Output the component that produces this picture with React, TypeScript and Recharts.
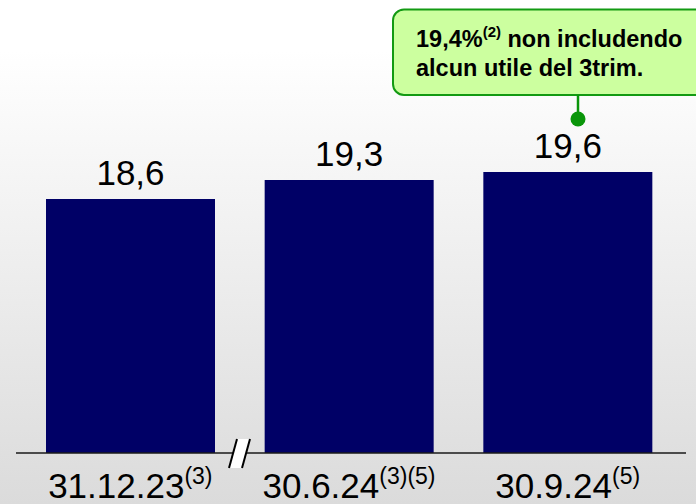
import React from 'react';
import { BarChart, Bar, XAxis, YAxis, LabelList } from 'recharts';

const categories = ['31.12.23', '30.6.24', '30.9.24'];
const footnotes = ['(3)', '(3)(5)', '(5)'];
const values = [18.6, 19.3, 19.6];
const calloutMain = '19,4%';
const calloutNote = '(2)';
const calloutRest1 = ' non includendo';
const calloutLine2 = 'alcun utile del 3trim.';

const data = categories.map((name, i) => ({ name, value: values[i] }));

const FONT = '"Liberation Sans", Arial, Helvetica, sans-serif';
const fmt = (v: number) => v.toFixed(1).replace('.', ',');

const Tick = (props: any) => {
  const { x, y, payload, index } = props;
  return (
    <text x={x} y={y + 37} textAnchor="middle" fontSize={35} fontFamily={FONT} fill="#000">
      <tspan>{payload.value}</tspan>
      <tspan fontSize={23} dy={-14}>{footnotes[index]}</tspan>
    </text>
  );
};

const ValueLabel = (props: any) => {
  const { x, y, width, value } = props;
  return (
    <text x={x + width / 2} y={y - 14} textAnchor="middle" fontSize={35} fontFamily={FONT} fill="#000">
      {fmt(value)}
    </text>
  );
};

export default function App() {
  return (
    <div
      style={{
        position: 'absolute',
        left: 0,
        top: 0,
        width: 696,
        height: 504,
        background: 'linear-gradient(to bottom, #ffffff 10%, #dbdbdb 100%)',
        overflow: 'hidden',
      }}
    >
      <BarChart width={696} height={504} data={data} margin={{ top: 26, right: 10, left: 16, bottom: 0 }}>
        <XAxis
          dataKey="name"
          height={51}
          interval={0}
          tickLine={false}
          axisLine={{ stroke: '#1a1a1a', strokeWidth: 1.5 }}
          padding={{ left: 5, right: 9 }}
          tick={<Tick />}
        />
        <YAxis hide domain={[9.2, 25]} />
        <Bar dataKey="value" fill="#000066" barSize={169} isAnimationActive={false}>
          <LabelList dataKey="value" content={<ValueLabel />} />
        </Bar>
      </BarChart>
      <svg
        width={696}
        height={504}
        style={{ position: 'absolute', left: 0, top: 0, pointerEvents: 'none' }}
      >
        <polygon points="229,468 237,439 250,439 242,468" fill="#ffffff" stroke="none" />
        <line x1={229} y1={468} x2={237} y2={439} stroke="#000" strokeWidth={2} />
        <line x1={242} y1={468} x2={250} y2={439} stroke="#000" strokeWidth={2} />
        <rect x={393} y={9.5} width={330} height={85.5} rx={11} fill="#ccff9f" stroke="#139a13" strokeWidth={2} />
        <line x1={578} y1={95} x2={578} y2={119} stroke="#0a960a" strokeWidth={2.5} />
        <circle cx={578} cy={119} r={7.5} fill="#0a960a" />
        <text x={416} y={46.5} fontSize={23.5} fontWeight="bold" fontFamily={FONT} fill="#000">
          <tspan>{calloutMain}</tspan>
          <tspan fontSize={15} dy={-10}>{calloutNote}</tspan>
          <tspan dy={10}>{calloutRest1}</tspan>
        </text>
        <text x={416} y={76} fontSize={23.5} fontWeight="bold" fontFamily={FONT} fill="#000">
          {calloutLine2}
        </text>
      </svg>
    </div>
  );
}
